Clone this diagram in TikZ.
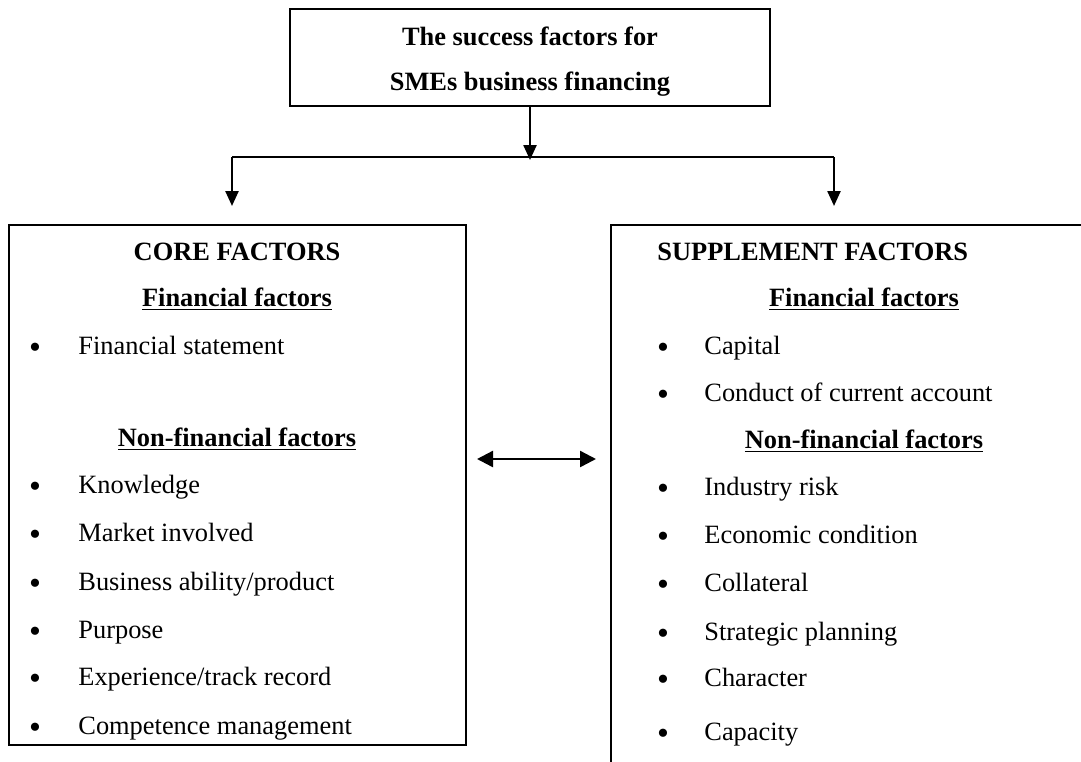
\documentclass[tikz,border=0pt]{standalone}
\usepackage{fontspec}
\setmainfont{Liberation Serif}
\usetikzlibrary{arrows.meta}
\begin{document}
\begin{tikzpicture}[x=0.5pt,y=-0.5pt,
  txt/.style={inner sep=0pt, text height=0.9em, text depth=0.1em, font=\fontsize{13.2}{15}\selectfont},
  hd/.style={txt, font=\fontsize{13.2}{15}\selectfont\bfseries},
  bul/.style={inner sep=0pt, text height=0.98em, text depth=0.1em, yshift=-2pt, font=\fontsize{17}{17}\selectfont},
  boxline/.style={draw, line width=1pt, inner sep=0pt},
  link/.style={line width=1.2pt},
  conn/.style={line width=1.2pt, -{Triangle[width=6.5pt,length=7.5pt]}},
  dconn/.style={line width=1.2pt, {Triangle[width=8pt,length=8pt]}-{Triangle[width=8pt,length=8pt]}},
  ]
\useasboundingbox (0,0) rectangle (1081,761);
\clip (0,0) rectangle (1081,761);

% top box
\node[boxline, minimum width=240pt, minimum height=48.5pt] (top) at (530,57.5) {};
\node[align=center, inner sep=0pt, font=\fontsize{13.2}{22.5}\selectfont\bfseries]
  (toptext) at (530,61.5) {The success factors for\\SMEs business financing};

% left box
\node[boxline, minimum width=228.5pt, minimum height=260pt] (core) at (237.5,485) {};
% right box (runs off the page)
\node[boxline, minimum width=245pt, minimum height=278pt] (supp) at (856,503) {};

% connectors
\coordinate (j) at (530,160);
\coordinate (jl) at (232,157);
\coordinate (jr) at (834,157);
\coordinate (el) at (232,206);
\coordinate (er) at (834,206);
\coordinate (dl) at (477,459);
\coordinate (dr) at (596,459);
\draw[conn] (top.south) -- (j);
\draw[link] (jl) -- (jr);
\draw[conn] (jl) -- (el);
\draw[conn] (jr) -- (er);
\draw[dconn] (dl) -- (dr);

% left contents
\node[hd] (coreh) at (237,252) {CORE FACTORS};
\node[hd] (coref) at (237,298) {\underline{Financial factors}};
\node[hd] (coren) at (237,438) {\underline{Non-financial factors}};
\foreach \y/\t [count=\i] in {346/Financial statement, 485/Knowledge, 533/Market involved,
   582/Business ability\slash product, 630/Purpose, 677/Experience\slash track record,
   726/Competence management}{
  \node[bul] (lb\i) at (35,\y) {•};
  \node[txt, anchor=west] (lt\i) at (78,\y) {\t};
}

% right contents
\node[hd, anchor=west] (supph) at (657,252) {SUPPLEMENT FACTORS};
\node[hd] (suppf) at (864,298) {\underline{Financial factors}};
\node[hd] (suppn) at (864,440) {\underline{Non-financial factors}};
\foreach \y/\t [count=\i] in {346/Capital, 393/Conduct of current account, 487/Industry risk,
   535/Economic condition, 583/Collateral, 632/Strategic planning, 678/Character, 732/Capacity}{
  \node[bul] (rb\i) at (663,\y) {•};
  \node[txt, anchor=west] (rt\i) at (704,\y) {\t};
}
\end{tikzpicture}
\end{document}
